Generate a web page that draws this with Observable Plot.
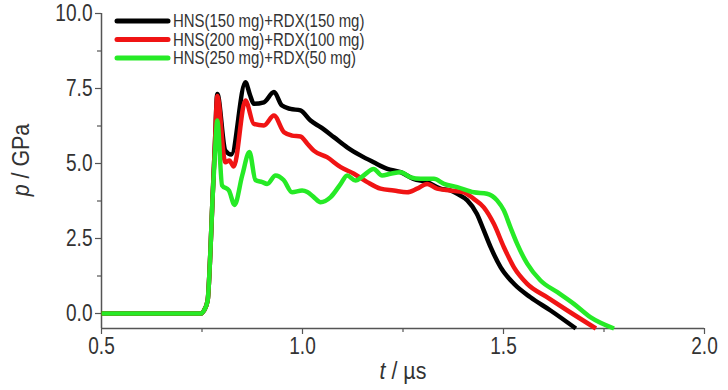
<!DOCTYPE html>
<html>
<head>
<meta charset="utf-8">
<script src="https://cdn.jsdelivr.net/npm/d3@7"></script>
<script src="https://cdn.jsdelivr.net/npm/@observablehq/plot@0.6"></script>
<style>
  html, body { margin: 0; padding: 0; background: #fff; }
  #chart { position: relative; width: 728px; height: 390px; }
</style>
</head>
<body>
<div id="chart"></div>
<script>
const seriesNames = ["HNS(150 mg)+RDX(150 mg)", "HNS(200 mg)+RDX(100 mg)", "HNS(250 mg)+RDX(50 mg)"];
const seriesColors = ["#000000", "#f01414", "#26ea26"];

const tBlack = [0.5, 0.748, 0.755, 0.764, 0.771, 0.776, 0.782, 0.788, 0.808, 0.823, 0.858, 0.869, 0.879, 0.904, 0.929, 0.949, 0.970, 0.995, 1.02, 1.045, 1.078, 1.111, 1.144, 1.177, 1.211, 1.244, 1.276, 1.31, 1.343, 1.368, 1.385, 1.41, 1.434, 1.451, 1.468, 1.493, 1.526, 1.567, 1.617, 1.68];
const pBlack = [0, 0, 0.1, 0.43, 2.1, 3.77, 5.6, 7.32, 5.43, 5.3, 7.71, 7.3, 6.99, 7.04, 7.38, 6.93, 6.82, 6.77, 6.43, 6.21, 5.88, 5.54, 5.27, 5.04, 4.82, 4.71, 4.49, 4.38, 4.16, 4.1, 3.99, 3.77, 3.32, 2.77, 2.21, 1.54, 0.99, 0.54, 0.1, -0.5];

const tRed = [0.5, 0.748, 0.755, 0.764, 0.771, 0.776, 0.782, 0.788, 0.808, 0.818, 0.829, 0.858, 0.879, 0.904, 0.929, 0.954, 0.974, 0.995, 1.012, 1.028, 1.061, 1.095, 1.128, 1.161, 1.194, 1.227, 1.26, 1.285, 1.31, 1.335, 1.368, 1.401, 1.426, 1.451, 1.476, 1.501, 1.526, 1.559, 1.609, 1.659, 1.73];
const pRed = [0, 0, 0.1, 0.43, 2.1, 3.77, 5.6, 7.25, 5.04, 5.1, 4.9, 7.1, 6.32, 6.27, 6.6, 6.04, 5.93, 5.9, 5.66, 5.43, 5.21, 4.88, 4.66, 4.38, 4.16, 4.1, 4.04, 4.16, 4.32, 4.16, 4.1, 4.04, 3.82, 3.54, 2.99, 2.21, 1.54, 0.99, 0.54, 0.1, -0.5];

const tGreen = [0.5, 0.748, 0.755, 0.764, 0.771, 0.776, 0.782, 0.788, 0.80, 0.817, 0.831, 0.85, 0.868, 0.883, 0.9, 0.912, 0.933, 0.953, 0.974, 0.999, 1.012, 1.028, 1.045, 1.07, 1.095, 1.111, 1.132, 1.152, 1.177, 1.198, 1.219, 1.244, 1.269, 1.294, 1.327, 1.352, 1.385, 1.426, 1.459, 1.484, 1.501, 1.517, 1.534, 1.559, 1.592, 1.634, 1.675, 1.716, 1.775];
const pGreen = [0, 0, 0.1, 0.43, 2.1, 3.77, 5.3, 6.43, 4.27, 4.1, 3.62, 4.6, 5.38, 4.45, 4.38, 4.32, 4.6, 4.45, 4.04, 4.1, 4.05, 3.88, 3.71, 3.88, 4.32, 4.6, 4.43, 4.6, 4.82, 4.6, 4.66, 4.71, 4.54, 4.49, 4.49, 4.32, 4.21, 4.04, 3.99, 3.77, 3.43, 2.88, 2.32, 1.66, 1.1, 0.71, 0.32, -0.12, -0.5];

const xMajor = [0.5, 1.0, 1.5, 2.0];
const xMinor = [0.75, 1.25, 1.75];
const yMajor = [0, 2.5, 5, 7.5, 10];
const yMinor = [1.25, 3.75, 6.25, 8.75];

const series = [
  {t: tBlack, p: pBlack},
  {t: tRed, p: pRed},
  {t: tGreen, p: pGreen}
];
const data = series.flatMap((s, i) => s.t.map((t, j) => ({t, p: s.p[j], name: seriesNames[i]})));

const FONT = "'Liberation Sans', Arial, sans-serif";
const axisColor = "#555";

const plot = Plot.plot({
  width: 728,
  height: 390,
  marginLeft: 101,
  marginRight: 24,
  marginTop: 13,
  marginBottom: 62,
  style: {fontFamily: FONT, fontSize: "23px", color: "#333", background: "#fff"},
  x: {domain: [0.5, 2.0], label: null},
  y: {domain: [-0.5, 10], label: null},
  color: {domain: seriesNames, range: seriesColors},
  marks: [
    Plot.axisX({ticks: xMajor, tickSize: 6, tickPadding: 3, tickFormat: d3.format(".1f"), fontSize: 23, stroke: axisColor, strokeWidth: 1.2, fill: "#333", label: null}),
    Plot.axisX({ticks: xMinor, tickSize: 4, tickFormat: () => "", stroke: axisColor, strokeWidth: 1.2, label: null}),
    Plot.axisY({ticks: yMajor, tickSize: 6, tickPadding: 3, tickFormat: d3.format(".1f"), fontSize: 23, stroke: axisColor, strokeWidth: 1.2, fill: "#333", label: null}),
    Plot.axisY({ticks: yMinor, tickSize: 4, tickFormat: () => "", stroke: axisColor, strokeWidth: 1.2, label: null}),
    Plot.ruleX([0.5], {y1: -0.5, y2: 10, stroke: axisColor, strokeWidth: 1.5}),
    Plot.ruleY([-0.5], {x1: 0.5, x2: 2.0, stroke: axisColor, strokeWidth: 1.5}),
    Plot.line(data, {x: "t", y: "p", z: "name", stroke: "name", strokeWidth: 4.5, curve: "monotone-x", strokeLinejoin: "round", strokeLinecap: "butt"})
  ]
});

document.getElementById("chart").appendChild(plot);

const svg = d3.select(plot);

// Condense tick and legend text horizontally (narrow typeface look)
function condense(el, f) {
  const len = el.getComputedTextLength();
  if (len > 0) {
    el.setAttribute("textLength", (len * f).toFixed(1));
    el.setAttribute("lengthAdjust", "spacingAndGlyphs");
  }
}
plot.querySelectorAll("text").forEach(el => condense(el, 0.83));

// Axis titles
const yt = svg.append("text")
  .attr("transform", "translate(29,160) rotate(-90)")
  .attr("text-anchor", "middle")
  .attr("font-family", FONT)
  .attr("font-size", 23)
  .attr("fill", "#333");
yt.append("tspan").attr("font-style", "italic").text("p");
yt.append("tspan").text(" / GPa");

const xt = svg.append("text")
  .attr("x", 403)
  .attr("y", 379)
  .attr("text-anchor", "middle")
  .attr("font-family", FONT)
  .attr("font-size", 23)
  .attr("fill", "#333");
xt.append("tspan").attr("font-style", "italic").text("t");
xt.append("tspan").text(" / \u00b5s");

// Legend
const lg = svg.append("g");
lg.append("rect").attr("x", 112).attr("y", 10).attr("width", 260).attr("height", 60).attr("fill", "#fff");
seriesNames.forEach((n, i) => {
  const y = 21 + i * 18.5;
  lg.append("line").attr("x1", 117).attr("x2", 168).attr("y1", y).attr("y2", y)
    .attr("stroke", seriesColors[i]).attr("stroke-width", 5).attr("stroke-linecap", "round");
  const tx = lg.append("text").attr("x", 173).attr("y", y).attr("dy", "0.35em")
    .attr("text-anchor", "start")
    .attr("font-family", FONT).attr("font-size", 18).attr("fill", "#333").text(n);
  condense(tx.node(), 0.83);
});

condense(yt.node(), 0.93);
condense(xt.node(), 0.93);
</script>
</body>
</html>
